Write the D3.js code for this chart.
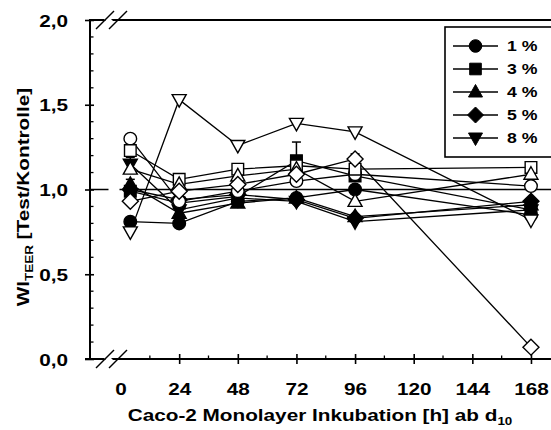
<!DOCTYPE html>
<html><head><meta charset="utf-8">
<script src="https://cdn.jsdelivr.net/npm/d3@7"></script>
<style>body{margin:0;background:#fff}svg{display:block;font-family:Arial,"Liberation Sans",sans-serif;font-weight:bold}</style>
</head><body><svg id="c" width="551" height="430"></svg>
<script>
const hours = [4, 24, 48, 72, 96, 168];
const xTicks = [0, 24, 48, 72, 96, 120, 144, 168];
const yTicks = [0, 0.5, 1, 1.5, 2];
const yTickLabels = ["0,0", "0,5", "1,0", "1,5", "2,0"];
const legendLabels = ["1 %", "3 %", "4 %", "5 %", "8 %"];
const legendShapes = ["circle", "square", "triangle", "diamond", "triangleDown"];

const c1Filled = [0.81, 0.80, 0.93, 0.95, 1.00, 0.85];
const c1Open   = [1.30, 0.93, 0.99, 1.05, 1.09, 1.02];
const c3Filled = [0.99, 0.92, 0.96, 1.17, 1.08, 0.88];
const c3Open   = [1.23, 1.06, 1.12, 1.14, 1.12, 1.13];
const c4Filled = [1.03, 0.86, 0.92, 0.95, 0.84, 0.91];
const c4Open   = [1.12, 1.03, 1.08, 1.12, 0.93, 1.09];
const c5Filled = [1.00, 0.94, 0.97, 0.94, 0.83, 0.93];
const c5Open   = [0.93, 0.99, 1.03, 1.09, 1.18, 0.07];
const c8Filled = [1.15, 0.88, 0.95, 0.93, 0.81, 0.88];
const c8Open   = [0.75, 1.53, 1.26, 1.39, 1.34, 0.82];

const c3FilledErr = [0, 0, 0, 0.11, 0, 0];
const c4OpenErr   = [0.05, 0, 0, 0, 0, 0];
const c5FilledErr = [0.06, 0, 0, 0, 0, 0];
const c5OpenErr   = [0, 0, 0, 0, 0.03, 0];
const c8FilledErr = [0.04, 0, 0, 0, 0, 0];

const series = [
  {v: c1Filled, shape: "circle", fill: true},
  {v: c3Filled, shape: "square", fill: true, err: c3FilledErr},
  {v: c4Filled, shape: "triangle", fill: true},
  {v: c5Filled, shape: "diamond", fill: true, err: c5FilledErr},
  {v: c8Filled, shape: "triangleDown", fill: true, err: c8FilledErr},
  {v: c1Open, shape: "circle", fill: false},
  {v: c3Open, shape: "square", fill: false},
  {v: c4Open, shape: "triangle", fill: false, err: c4OpenErr},
  {v: c5Open, shape: "diamond", fill: false, err: c5OpenErr},
  {v: c8Open, shape: "triangleDown", fill: false}
];

const SX = 1.22; // horizontal text stretch
const svg = d3.select("#c");
const x = d3.scaleLinear().domain([-12.5, 176.2]).range([90, 551]);
const y = d3.scaleLinear().domain([0, 2]).range([359, 20]);

function symPath(shape) {
  switch (shape) {
    case "circle": return d3.symbol(d3.symbolCircle, 125)();
    case "square": return d3.symbol(d3.symbolSquare, 135)();
    case "triangle": return "M0,-7.5L7,5L-7,5Z";
    case "triangleDown": return "M0,7.5L7,-5L-7,-5Z";
    case "diamond": return "M0,-8L8,0L0,8L-8,0Z";
  }
}

// reference line at 1,0
svg.append("line").attr("x1", x.range()[0]).attr("x2", 551).attr("y1", y(1)).attr("y2", y(1))
  .attr("stroke", "#000").attr("stroke-width", 1.3);

// series lines
const line = d3.line().x((d, i) => x(hours[i])).y(d => y(d));
series.forEach(s => {
  svg.append("path").attr("d", line(s.v)).attr("fill", "none").attr("stroke", "#000").attr("stroke-width", 1.3);
});
// error bars
series.forEach(s => {
  if (!s.err) return;
  s.err.forEach((e, i) => {
    if (!e) return;
    const g = svg.append("g").attr("stroke", "#000").attr("stroke-width", 1.5);
    g.append("line").attr("x1", x(hours[i])).attr("x2", x(hours[i])).attr("y1", y(s.v[i])).attr("y2", y(s.v[i] + e));
    g.append("line").attr("x1", x(hours[i]) - 4.5).attr("x2", x(hours[i]) + 4.5).attr("y1", y(s.v[i] + e)).attr("y2", y(s.v[i] + e));
  });
});
// markers
series.forEach(s => {
  svg.append("g").selectAll("path").data(s.v).join("path")
    .attr("d", symPath(s.shape))
    .attr("transform", (d, i) => `translate(${x(hours[i])},${y(d)})`)
    .attr("fill", s.fill ? "#000" : "#fff").attr("stroke", "#000").attr("stroke-width", 1.4);
});

const FONT = "Arial, 'Liberation Sans', sans-serif";
// axes
const yAxis = svg.append("g").attr("transform", `translate(${x.range()[0]},0)`)
  .call(d3.axisLeft(y).tickValues(yTicks).tickFormat((d, i) => yTickLabels[i]).tickSize(4).tickPadding(14));
yAxis.select(".domain").attr("d", `M0,${y(0)}V${y(2)}`).attr("stroke-width", 2);
yAxis.selectAll(".tick line").attr("x1", -5).attr("x2", 4).attr("stroke-width", 1.6);
yAxis.selectAll("text").attr("font-size", 17).attr("font-weight", "bold").attr("font-family", FONT).attr("fill", "#000")
  .attr("dy", "0.36em").attr("transform", `scale(${SX},1)`);
const yMinor = d3.range(1, 20).filter(k => k % 5 !== 0).map(k => k / 10);
svg.append("g").selectAll("line").data(yMinor).join("line")
  .attr("x1", x.range()[0]).attr("x2", x.range()[0] + 3.5).attr("y1", d => y(d)).attr("y2", d => y(d))
  .attr("stroke", "#000").attr("stroke-width", 1.3);

const xAxis = svg.append("g").attr("transform", `translate(0,${y(0)})`)
  .call(d3.axisBottom(x).tickValues(xTicks).tickSize(5).tickPadding(14));
xAxis.select(".domain").attr("d", `M85,0H551`).attr("stroke-width", 2);
xAxis.selectAll(".tick line").attr("y1", -5).attr("y2", 5).attr("stroke-width", 1.6).attr("display", d => d === 0 ? "none" : null);
xAxis.selectAll("text").attr("font-size", 17).attr("font-weight", "bold").attr("font-family", FONT).attr("fill", "#000")
  .attr("y", 36).attr("dy", 0).attr("transform", `scale(${SX},1)`);
const xMinor = d3.range(12, 168, 24);
svg.append("g").selectAll("line").data(xMinor).join("line")
  .attr("x1", d => x(d)).attr("x2", d => x(d)).attr("y1", y(0)).attr("y2", y(0) - 3.5)
  .attr("stroke", "#000").attr("stroke-width", 1.3);

// top frame line
svg.append("line").attr("x1", x.range()[0] - 1).attr("x2", 551).attr("y1", y(2)).attr("y2", y(2)).attr("stroke", "#000").attr("stroke-width", 2);

// axis breaks
function brk(yy) {
  svg.append("path").attr("d", `M102,${yy - 3}L109,${yy - 3}L115,${yy + 3}L108,${yy + 3}Z`).attr("fill", "#fff");
  svg.append("line").attr("x1", 96).attr("y1", yy + 9).attr("x2", 114).attr("y2", yy - 9).attr("stroke", "#000").attr("stroke-width", 1.5);
  svg.append("line").attr("x1", 109).attr("y1", yy + 9).attr("x2", 127).attr("y2", yy - 9).attr("stroke", "#000").attr("stroke-width", 1.5);
}
brk(y(2));
brk(y(0));
// break in reference line
svg.append("rect").attr("x", 108.5).attr("y", y(1) - 2).attr("width", 11).attr("height", 4).attr("fill", "#fff");

// legend
const lg = svg.append("g");
lg.append("rect").attr("x", 445).attr("y", 27).attr("width", 120).attr("height", 130)
  .attr("fill", "#fff").attr("stroke", "#000").attr("stroke-width", 1.6);
const ly = d3.scalePoint().domain(legendLabels).range([46, 138]);
legendLabels.forEach((lab, i) => {
  const yy = ly(lab);
  lg.append("line").attr("x1", 453).attr("x2", 498).attr("y1", yy).attr("y2", yy).attr("stroke", "#000").attr("stroke-width", 1.4);
  lg.append("path").attr("d", symPath(legendShapes[i])).attr("transform", `translate(475.5,${yy})`).attr("fill", "#000").attr("stroke", "#000");
  lg.append("text").attr("transform", `translate(507,${yy + 5.2}) scale(${SX},1)`).attr("font-size", 14.5).text(lab);
});

// titles
const xt = svg.append("text").attr("transform", `translate(320,421) scale(${SX},1)`).attr("text-anchor", "middle").attr("font-size", 17);
xt.append("tspan").text("Caco-2 Monolayer Inkubation [h] ab d");
xt.append("tspan").attr("font-size", 11).attr("dy", 4).text("10");

const yt = svg.append("text").attr("transform", `translate(29,197) rotate(-90) scale(${SX},1)`).attr("text-anchor", "middle").attr("font-size", 17);
yt.append("tspan").text("WI");
yt.append("tspan").attr("font-size", 11).attr("dy", 4).text("TEER");
yt.append("tspan").attr("dy", -4).text(" [Test/Kontrolle]");
</script></body></html>
